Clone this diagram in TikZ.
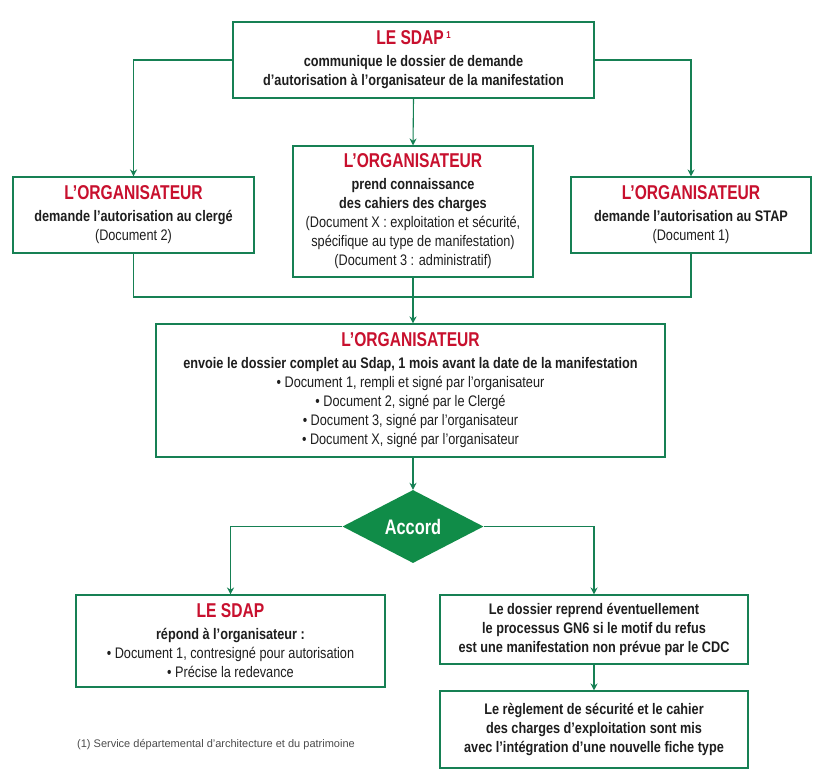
\documentclass[tikz,border=0pt]{standalone}
\usepackage{fontspec}
\setmainfont{Liberation Sans}[FakeStretch=0.83]
\newfontfamily\ttlf{Liberation Sans}[FakeStretch=0.78]
\newfontfamily\fnf{Liberation Sans}
\usetikzlibrary{arrows.meta,shapes.geometric}
\definecolor{gr}{RGB}{22,128,84}
\definecolor{grfill}{RGB}{16,140,72}
\definecolor{rd}{RGB}{200,16,46}
\definecolor{tx}{RGB}{30,30,30}
\tikzset{
  box/.style={draw=gr,line width=1.1pt,inner sep=0pt,align=center,text=tx,
    font=\fontsize{15.3}{19}\selectfont},
  conn/.style={draw=gr,line width=1.1pt},
  arr/.style={conn,-{Stealth[length=7pt,width=7pt]}},
}
\newcommand{\tl}[1]{{\ttlf\fontsize{20}{19}\selectfont\bfseries\color{rd}#1}}
\newcommand{\bd}{\bfseries}
\newcommand{\rg}{\mdseries}
\begin{document}
\begin{tikzpicture}[x=1pt,y=-1pt]
\useasboundingbox (0,0) rectangle (818,780);
\fill[white] (0,0) rectangle (818,780);
% boxes
\node[box,minimum width=361pt,minimum height=76pt] (top) at (413.5,60)
 {\tl{LE SDAP}\,{\ttlf\fontsize{10}{10}\selectfont\bfseries\color{rd}\raisebox{6pt}{1}}\\[3pt]
  \bd communique le dossier de demande\\ \bd d’autorisation à l’organisateur de la manifestation};
\node[box,minimum width=241pt,minimum height=76pt] (lft) at (133.5,215)
 {\tl{L’ORGANISATEUR}\\[3pt] \bd demande l’autorisation au clergé\\ \rg (Document 2)};
\node[box,minimum width=240pt,minimum height=131pt] (mid) at (413,211.5)
 {\tl{L’ORGANISATEUR}\\[3pt] \bd prend connaissance\\ \bd des cahiers des charges\\
  \rg (Document X : exploitation et sécurité,\\ \rg spécifique au type de manifestation)\\ \rg (Document 3 : administratif)};
\node[box,minimum width=240pt,minimum height=76pt] (rgt) at (691,215)
 {\tl{L’ORGANISATEUR}\\[3pt] \bd demande l’autorisation au STAP\\ \rg (Document 1)};
\node[box,minimum width=509pt,minimum height=133pt] (big) at (410.5,390.5)
 {\tl{L’ORGANISATEUR}\\[3pt] \bd envoie le dossier complet au Sdap, 1 mois avant la date de la manifestation\\
  \rg • Document 1, rempli et signé par l’organisateur\\
  \rg • Document 2, signé par le Clergé\\
  \rg • Document 3, signé par l’organisateur\\
  \rg • Document X, signé par l’organisateur};
\node[diamond,fill=grfill,inner sep=0pt,minimum width=141pt,minimum height=73pt,aspect=1.93,
  text=white,font=\ttlf\fontsize{21}{21}\selectfont\bfseries] (acc) at (413,526.5) {Accord};
\node[box,minimum width=309pt,minimum height=92pt] (bl) at (230.5,641)
 {\tl{LE SDAP}\\[3pt] \bd répond à l’organisateur :\\
  \rg • Document 1, contresigné pour autorisation\\ \rg • Précise la redevance};
\node[box,minimum width=308pt,minimum height=69pt] (br1) at (594,629.5)
 {\bd Le dossier reprend éventuellement\\ \bd le processus GN6 si le motif du refus\\ \bd est une manifestation non prévue par le CDC};
\node[box,minimum width=308pt,minimum height=77pt] (br2) at (594,729.5)
 {\bd Le règlement de sécurité et le cahier\\ \bd des charges d’exploitation sont mis\\ \bd avec l’intégration d’une nouvelle fiche type};
\node[anchor=west,inner sep=0pt,text=black!70,font=\fnf\fontsize{11}{12}\selectfont] (fn) at (77,745)
 {(1) Service départemental d’architecture et du patrimoine};
% connectors
\coordinate (j) at (413,297);
\draw[arr] (top.west) -| (lft.north);
\draw[arr] (top.east) -| (rgt.north);
\draw[arr] (top.south) -- (mid.north);
\draw[conn] (lft.south) |- (j) -| (rgt.south);
\draw[arr] (mid.south) -- (mid.south |- big.north);
\draw[arr] (acc.north |- big.south) -- (acc.north);
\draw[arr] (acc.west) -| (bl.north);
\draw[arr] (acc.east) -| (br1.north);
\draw[arr] (br1.south) -- (br2.north);
\end{tikzpicture}
\end{document}
